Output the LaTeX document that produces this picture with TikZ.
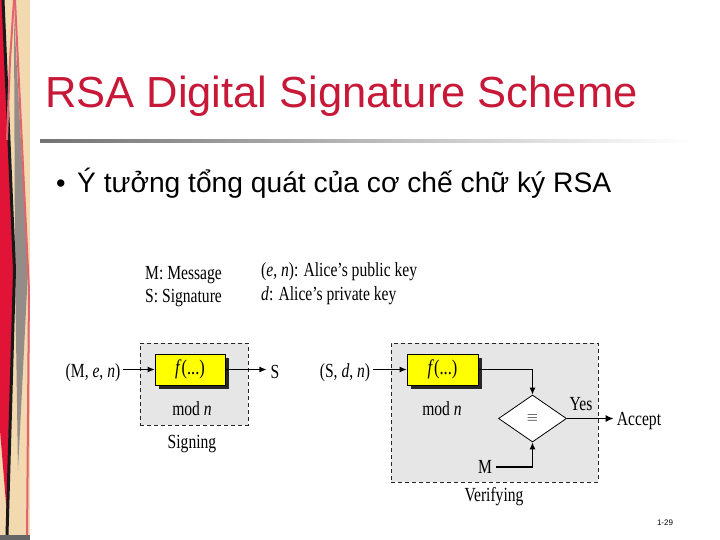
\documentclass[tikz,border=0pt]{standalone}
\usepackage{fontspec}
\setmainfont{Liberation Serif}
\newfontfamily\arial{Liberation Sans}
\newfontfamily\cond[FakeStretch=0.78]{Liberation Serif}
\usetikzlibrary{arrows.meta,shapes.geometric,shadows}
\definecolor{titlered}{RGB}{200,24,56}
\definecolor{beige}{RGB}{242,217,176}
\definecolor{stripred}{RGB}{225,20,55}
\definecolor{stripgray}{RGB}{150,140,135}
\definecolor{strippink}{RGB}{225,100,110}
\definecolor{boxgray}{RGB}{230,230,230}
\definecolor{fyellow}{RGB}{255,255,0}
\tikzset{
  lbl/.style={font=\cond\fontsize{20}{22}\selectfont, inner sep=0},
  dashbox/.style={draw=black!85, fill=boxgray, dash pattern=on 4pt off 3pt, line width=0.8pt},
  fbox/.style={draw=black, fill=fyellow, line width=0.6pt, minimum width=70pt, minimum height=31pt, inner sep=0,
     font=\cond\fontsize{21}{23}\selectfont,
     drop shadow={shadow xshift=3.5pt, shadow yshift=-3.5pt, fill=black!85, opacity=1}},
  arr/.style={-{Latex[length=7pt,width=6pt]}, line width=1.1pt},
}
\begin{document}
\begin{tikzpicture}[x=1pt,y=-1pt]
\useasboundingbox (0,0) rectangle (720,540);
\fill[white] (0,0) rectangle (720,540);
% left decoration strip
\fill[beige] (0,0) rectangle (30,540);
\fill[stripgray] (14,15) -- (28,270) -- (18,470) -- (15,270) -- cycle;
\fill[stripred] (0,0) -- (4,0) -- (14,270) -- (7,515) -- (0,430) -- cycle;
\draw[black!90, line width=3pt] (3,0) -- (14.5,270) -- (7,535);
\draw[strippink, line width=2pt] (14,0) -- (10,60) -- (7,140);
\draw[strippink, line width=2pt] (15,0) -- (29,290) -- (27,540);
\fill[black!60] (0,535) rectangle (30,540);
% title
\node[anchor=base west, inner sep=0, text=titlered, font=\arial\fontsize{43.5}{46}\selectfont] (title) at (45,108) {RSA Digital Signature Scheme};
\shade[left color=black!55, right color=white] (40,139.5) rectangle (690,142.5);
% bullet
\node[anchor=base west, inner sep=0, font=\arial\fontsize{27}{30}\selectfont] (bul) at (56,193) {•};
\node[anchor=base west, inner sep=0, font=\arial\fontsize{28.2}{30}\selectfont] (btext) at (77,193) {Ý tưởng tổng quát của cơ chế chữ ký RSA};
% legends
\node[lbl, anchor=west] (leg1) at (145,275) {M: Message};
\node[lbl, anchor=west] (leg2) at (145,298) {S: Signature};
\node[lbl, anchor=west] (leg3) at (261,272) {(\textit{e}, \textit{n}): Alice’s public key};
\node[lbl, anchor=west] (leg4) at (261,296) {\textit{d}: Alice’s private key};
% signing
\node[dashbox, minimum width=108pt, minimum height=82pt, inner sep=0] (sigbox) at (194,384) {};
\node[fbox] (f1) at (190,369.5) {\textit{f}(...)};
\node[lbl] (mod1) at (192,409) {mod \textit{n}};
\node[lbl] (signing) at (192,444) {Signing};
\node[lbl] (in1) at (93,373) {(M, \textit{e}, \textit{n})};
\node[lbl] (s1) at (275,372) {S};
\draw[arr] (in1.east |- f1.west) ++(3,0) -- (f1.west);
\draw[arr] (f1.east) -- ([xshift=-4pt]s1.west |- f1.east);
% verifying
\node[dashbox, minimum width=207pt, minimum height=139pt, inner sep=0] (verbox) at (494.5,412.5) {};
\node[fbox, minimum width=71pt] (f2) at (442.5,369.5) {\textit{f}(...)};
\node[lbl] (mod2) at (442,409) {mod \textit{n}};
\node[lbl] (in2) at (345,373) {(S, \textit{d}, \textit{n})};
\node[draw=black, fill=white, diamond, line width=0.8pt, minimum width=68pt, minimum height=47pt, inner sep=0, font=\fontsize{14}{16}\selectfont] (eq) at (532.5,418.5) {$\equiv$};
\node[lbl] (yes) at (581,404) {Yes};
\node[lbl] (acc) at (639,421) {Accept};
\node[lbl] (m2) at (485,467) {M};
\node[lbl] (verifying) at (494,497) {Verifying};
\draw[arr] (in2.east |- f2.west) ++(3,0) -- (f2.west);
\draw[arr] (f2.east) -| (eq.north);
\draw[arr] ([xshift=4pt]m2.east) -| (eq.south);
\draw[-{Latex[length=8pt,width=7pt]}, line width=1.6pt] (eq.east) -- ([xshift=-3pt]acc.west |- eq.east);
% page number
\node[inner sep=0, font=\arial\fontsize{8}{9}\selectfont] (pg) at (665,523) {1-29};
\end{tikzpicture}
\end{document}
